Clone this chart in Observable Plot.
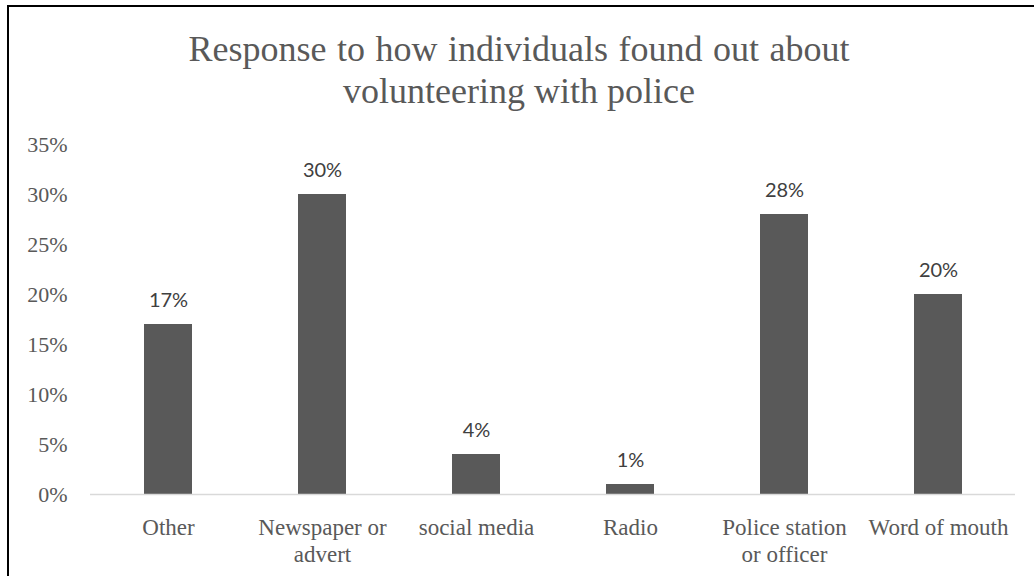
<!DOCTYPE html>
<html>
<head>
<meta charset="utf-8">
<script src="https://cdn.jsdelivr.net/npm/d3@7"></script>
<script src="https://cdn.jsdelivr.net/npm/@observablehq/plot@0.6"></script>
<style>
  html, body { margin: 0; padding: 0; background: #fff; overflow: hidden; }
  #wrap { position: relative; width: 1034px; height: 576px; overflow: hidden; background: #fff; }
  #border { position: absolute; left: 7px; top: 5px; width: 1060px; height: 620px; border: 2px solid #000; box-sizing: border-box; }
  #title { position: absolute; left: 0; top: 28px; width: 1038px; text-align: center;
           font-family: "Liberation Serif", "Times New Roman", serif; font-size: 36px; line-height: 42px; color: #595959; }
  #title .l1 { word-spacing: 1.5px; }
  #chart { position: absolute; left: 0; top: 100px; }
</style>
</head>
<body>
<div id="wrap">
  <div id="border"></div>
  <div id="title"><span class="l1">Response to how individuals found out about</span><br>volunteering with police</div>
  <div id="chart"></div>
</div>
<script>
const categories = ["Other", "Newspaper or advert", "social media", "Radio", "Police station or officer", "Word of mouth"];
const tickLabels = ["Other", "Newspaper or\nadvert", "social media", "Radio", "Police station\nor officer", "Word of mouth"];
const values = [0.17, 0.30, 0.04, 0.01, 0.28, 0.20];
const yTicks = [0, 0.05, 0.10, 0.15, 0.20, 0.25, 0.30, 0.35];

const data = categories.map((c, i) => ({category: c, value: values[i]}));
const labelOf = new Map(categories.map((c, i) => [c, tickLabels[i]]));
const pct = d3.format(".0%");
const serif = "'Liberation Serif', 'Times New Roman', serif";

const chart = Plot.plot({
  width: 1034,
  height: 476,
  marginTop: 44,
  marginBottom: 82,
  marginLeft: 90,
  marginRight: 19,
  style: {background: "transparent", color: "#595959", fontFamily: serif, overflow: "visible"},
  x: {domain: categories, paddingInner: 0.689, paddingOuter: 0.3445, label: null},
  y: {domain: [0, 0.35], label: null},
  marks: [
    Plot.axisY({ticks: yTicks, tickFormat: pct, tickSize: 0, tickPadding: 23, fontSize: 22, fontFamily: serif, fill: "#595959", label: null}),
    Plot.axisX({tickFormat: d => labelOf.get(d), tickSize: 0, tickPadding: 21, fontSize: 23, fontFamily: serif, fill: "#595959", lineHeight: 1.17, label: null}),
    Plot.barY(data, {x: "category", y: "value", fill: "#595959"}),
    Plot.ruleY([0], {stroke: "#d9d9d9", strokeWidth: 1.5}),
    Plot.text(data, {x: "category", y: "value", text: d => pct(d.value), dy: -24, lineAnchor: "middle",
      fill: "#404040", fontSize: 20, fontFamily: "Lato, 'Liberation Sans', sans-serif"})
  ]
});
document.getElementById("chart").appendChild(chart);
</script>
</body>
</html>
